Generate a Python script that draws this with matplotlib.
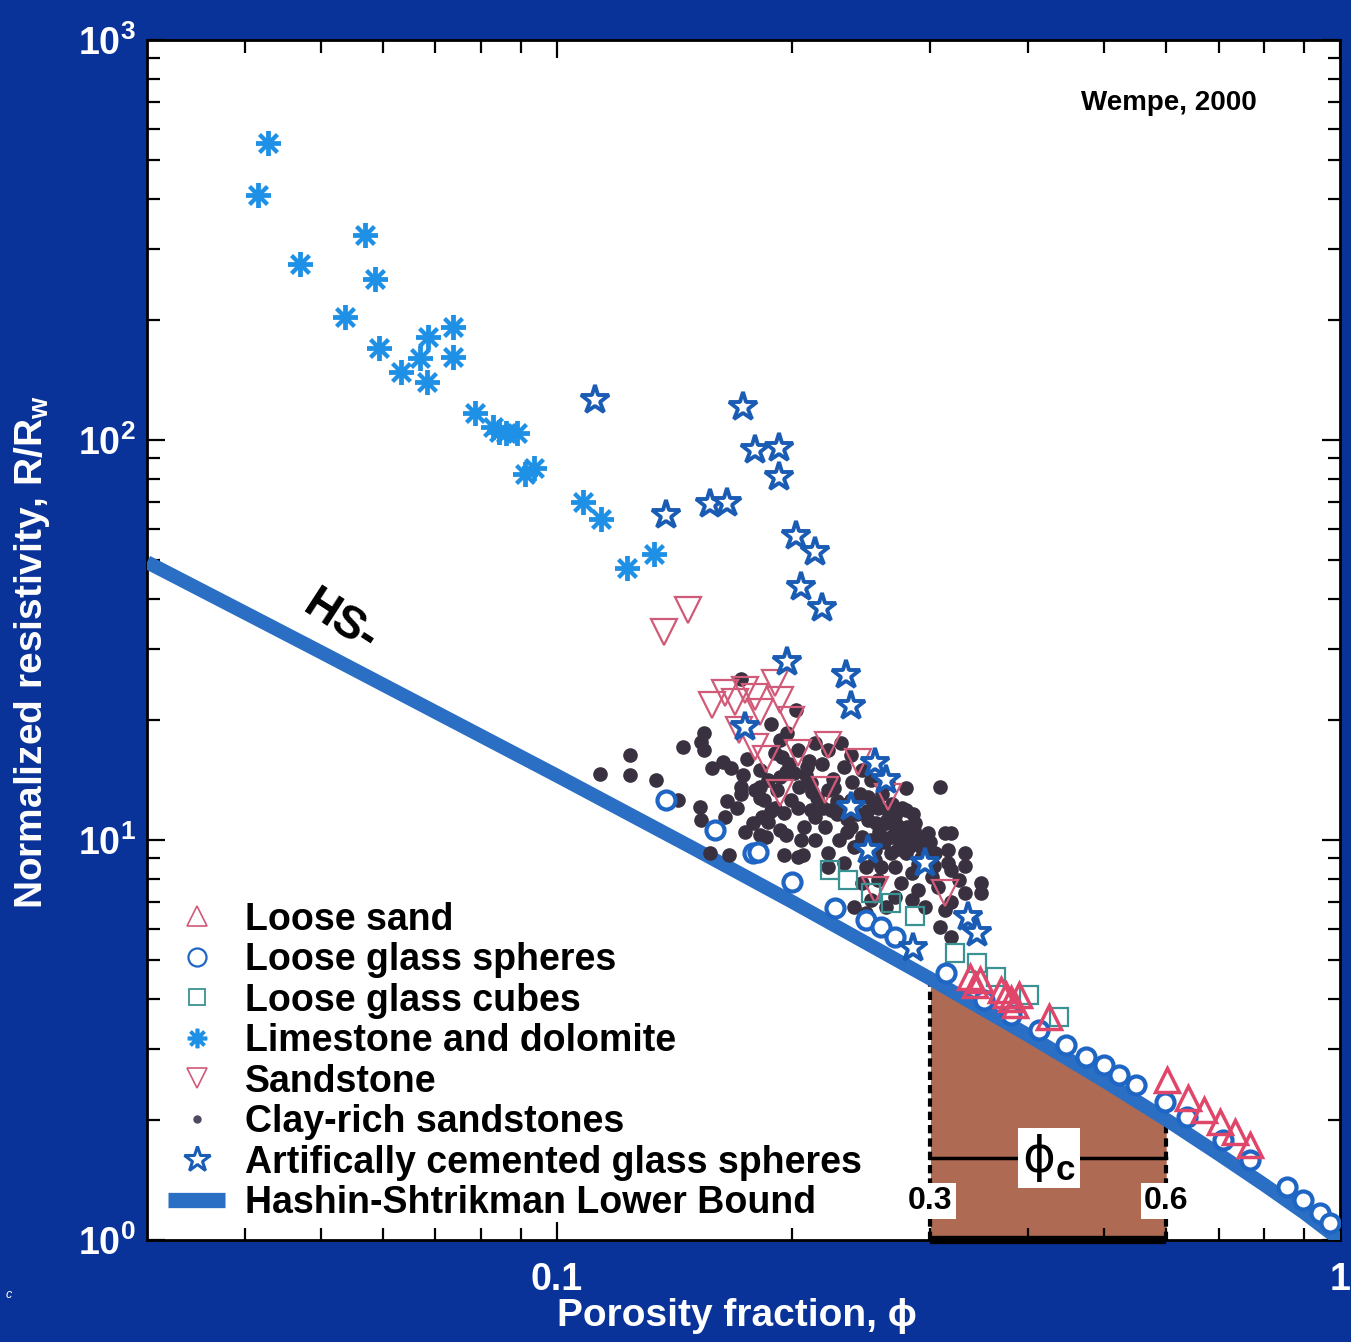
"""
Normalized resistivity vs porosity with the Hashin-Shtrikman lower bound
and the critical-porosity window.
"""

import matplotlib
matplotlib.use("Agg")
import matplotlib.pyplot as plt
from matplotlib.lines import Line2D
from matplotlib.ticker import FixedLocator, FixedFormatter, NullFormatter

BG = "#0a3399"
HS_COL = "#2a6fc4"
SHADE = "#ae6a52"
LIME_COL = "#1e90e6"
STAR_COL = "#1a5cb4"
SAND_COL = "#e0466a"
SST_COL = "#d05a78"
SPH_COL = "#1f66c4"
CUBE_COL = "#3a9292"
CLAY_COL = "#3a3140"

plt.rcParams["font.family"] = ["Liberation Sans", "DejaVu Sans"]
plt.rcParams["mathtext.fontset"] = "custom"
plt.rcParams["mathtext.rm"] = "Liberation Sans:bold"
plt.rcParams["mathtext.bf"] = "Liberation Sans:bold"
plt.rcParams["mathtext.it"] = "Liberation Sans:bold"
plt.rcParams["mathtext.fallback"] = "stixsans"

# ── Hashin-Shtrikman lower bound ──────────────────────────────────────────
hs_phi = [0.03, 0.04, 0.05, 0.07, 0.1, 0.15, 0.2, 0.3, 0.4, 0.5, 0.6, 0.7, 0.8, 0.9, 1.0]
hs_R = [49.5, 37.0, 29.5, 20.9, 14.5, 9.5, 7.0, 4.5, 3.25, 2.5, 2.0, 1.64, 1.375, 1.17, 1.0]

phi_c_lo, phi_c_hi = 0.3, 0.6

# ── Limestone and dolomite ────────────────────────────────────────────────
lime_phi = [0.0428, 0.0416, 0.0569, 0.0470, 0.0586, 0.0537, 0.0738, 0.0685,
            0.0593, 0.0669, 0.0738, 0.0633, 0.0683, 0.0787, 0.0830, 0.0843,
            0.0863, 0.0889, 0.0910, 0.0937, 0.108, 0.114, 0.123, 0.133]
lime_R = [553, 410, 326, 275, 253, 203, 192, 181,
          170, 160, 161, 148, 140, 117, 108, 105,
          104, 104, 82, 85, 70, 63.5, 48, 52]

# ── Artificially cemented glass spheres ───────────────────────────────────
star_phi = [0.112, 0.173, 0.179, 0.192, 0.192, 0.157, 0.165, 0.138,
            0.202, 0.214, 0.205, 0.218, 0.197, 0.234, 0.2375, 0.174,
            0.255, 0.263, 0.2375, 0.250, 0.295, 0.3355, 0.344, 0.285]
star_R = [126, 121, 94.4, 95.5, 80.8, 69.2, 69.6, 64.9,
          57.5, 52.5, 42.9, 38.0, 27.9, 25.8, 21.6, 19.2,
          15.6, 14.1, 12.1, 9.44, 8.76, 6.42, 5.86, 5.37]

# ── Sandstone ─────────────────────────────────────────────────────────────
sst_phi = [0.137, 0.147, 0.158, 0.164, 0.169, 0.174, 0.179, 0.182,
           0.190, 0.193, 0.171, 0.179, 0.185, 0.199, 0.203, 0.222,
           0.2425, 0.265, 0.193, 0.220, 0.255, 0.313]
sst_R = [33.1, 37.6, 21.8, 23.3, 22.1, 23.7, 22.8, 20.9,
         24.7, 22.4, 18.8, 17.1, 15.9, 20.0, 16.5, 17.3,
         15.7, 12.8, 13.1, 13.3, 7.5, 7.37]

# ── Loose sand ────────────────────────────────────────────────────────────
sand_phi = [0.337, 0.3425, 0.3475, 0.369, 0.375, 0.380, 0.385, 0.389, 0.425,
            0.602, 0.639, 0.671, 0.702, 0.734, 0.767]
sand_R = [4.54, 4.34, 4.47, 4.22, 4.10, 4.0, 3.87, 4.10, 3.61,
          2.51, 2.26, 2.11, 1.97, 1.86, 1.73]

# ── Loose glass spheres ───────────────────────────────────────────────────
sph_phi = [0.138, 0.1595, 0.178, 0.1805, 0.200, 0.2265, 0.248, 0.2595, 0.2705,
           0.314, 0.351, 0.380, 0.4125, 0.447, 0.474, 0.500, 0.522, 0.549,
           0.597, 0.637, 0.708, 0.767, 0.855, 0.897, 0.943, 0.971]
sph_R = [12.6, 10.6, 9.28, 9.33, 7.85, 6.76, 6.31, 6.06, 5.72,
         4.65, 3.98, 3.65, 3.35, 3.07, 2.87, 2.74, 2.59, 2.44,
         2.21, 2.03, 1.78, 1.585, 1.357, 1.259, 1.168, 1.103]

# ── Loose glass cubes ─────────────────────────────────────────────────────
cube_phi = [0.2233, 0.2354, 0.252, 0.2673, 0.2869, 0.3228, 0.3436, 0.3643, 0.4005, 0.4375]
cube_R = [8.41, 7.94, 7.37, 6.96, 6.46, 5.22, 4.93, 4.54, 4.10, 3.61]

# ── Clay-rich sandstones ──────────────────────────────────────────────────
clay_phi = [
    0.172, 0.154, 0.153, 0.154, 0.145, 0.124, 0.1135, 0.124, 0.134, 0.158,
    0.163, 0.167, 0.173, 0.175, 0.172, 0.172, 0.182, 0.182, 0.186, 0.193,
    0.193, 0.191, 0.182, 0.183, 0.186, 0.193, 0.1525, 0.153, 0.164, 0.174,
    0.182, 0.195, 0.166, 0.143, 0.157,
    0.185, 0.205, 0.206, 0.188, 0.222, 0.179, 0.184, 0.195, 0.203, 0.2135,
    0.220, 0.309, 0.319, 0.316, 0.319, 0.309,
    0.202, 0.194, 0.203, 0.2135, 0.222, 0.231, 0.2375, 0.233, 0.245, 0.252,
    0.265, 0.279, 0.201, 0.211, 0.222, 0.199, 0.211, 0.224, 0.2375, 0.255,
    0.265, 0.279, 0.287, 0.298, 0.313, 0.250, 0.263, 0.2705, 0.284, 0.2375,
    0.229, 0.240, 0.255, 0.267, 0.279, 0.292, 0.304, 0.316, 0.3325, 0.222,
    0.2135, 0.207, 0.203, 0.233, 0.248, 0.2595, 0.2705, 0.284, 0.301, 0.319,
    0.326, 0.307, 0.2895, 0.275, 0.257, 0.245, 0.295, 0.313, 0.3325, 0.3485,
    0.284, 0.252, 0.2705, 0.263, 0.240, 0.248,
    0.258, 0.270, 0.280, 0.262, 0.275, 0.290, 0.285, 0.245, 0.250, 0.260,
    0.268, 0.295, 0.300, 0.255, 0.242, 0.235, 0.228, 0.215, 0.208, 0.218,
    0.225, 0.238, 0.244, 0.210, 0.198, 0.190, 0.197, 0.188, 0.165, 0.170,
    0.178, 0.190, 0.196, 0.272, 0.282, 0.264, 0.276, 0.286, 0.292, 0.252,
    0.3325, 0.3485, 0.319,
    0.261, 0.267, 0.273, 0.279, 0.256, 0.249, 0.243, 0.235, 0.228, 0.219,
    0.212, 0.204, 0.196, 0.209, 0.226, 0.233, 0.257, 0.289, 0.297, 0.303,
]
clay_R = [
    25.3, 18.5, 17.6, 16.8, 17.1, 16.3, 14.6, 14.5, 14.1, 15.1,
    15.7, 15.1, 14.5, 15.9, 13.6, 13.0, 15.0, 13.6, 14.1, 17.8,
    14.4, 13.3, 12.7, 11.4, 11.1, 10.6, 12.1, 11.2, 11.4, 10.5,
    10.3, 9.17, 9.17, 12.6, 9.28,
    10.2, 10.0, 9.17, 11.8, 8.56, 13.3, 12.6, 11.7, 12.0, 11.4,
    10.8, 13.6, 10.4, 8.76, 5.72, 6.06,
    21.1, 16.1, 16.8, 17.5, 16.8, 17.5, 16.3, 15.2, 15.0, 14.1,
    13.9, 13.5, 14.7, 13.9, 13.3, 12.6, 11.9, 11.9, 12.6, 12.4,
    11.9, 11.9, 11.0, 10.4, 10.4, 11.2, 11.0, 10.4, 10.0, 10.8,
    10.0, 9.61, 9.44, 9.28, 9.28, 9.61, 9.28, 9.44, 9.28, 9.28,
    10.0, 10.8, 9.07, 8.76, 8.56, 8.56, 8.56, 8.27, 8.08, 8.41,
    7.94, 7.63, 7.50, 7.81, 7.94, 7.81, 6.80, 6.68, 7.37, 7.37,
    7.08, 7.08, 7.20, 6.80, 6.80, 6.57,
    10.5, 11.5, 10.8, 9.9, 9.8, 10.2, 11.6, 10.2, 12.8, 13.0,
    12.3, 8.9, 9.9, 8.9, 11.6, 11.3, 12.5, 12.7, 14.5, 15.5,
    14.2, 14.0, 13.0, 15.8, 15.5, 16.5, 18.5, 19.5, 12.5, 12.0,
    11.0, 12.0, 10.3, 10.9, 9.6, 11.2, 12.0, 10.6, 9.0, 10.0,
    8.6, 7.8, 7.0,
    10.0, 10.2, 9.5, 10.4, 11.0, 11.8, 9.7, 10.5, 11.6, 12.0,
    13.2, 13.6, 14.8, 15.2, 13.5, 12.2, 12.0, 8.7, 9.4, 8.6,
]

legend_labels = ["Loose sand", "Loose glass spheres", "Loose glass cubes",
                 "Limestone and dolomite", "Sandstone", "Clay-rich sandstones",
                 "Artifically cemented glass spheres", "Hashin-Shtrikman Lower Bound"]


def main():
    fig = plt.figure(figsize=(13.51, 13.42), dpi=100, facecolor=BG)
    ax = fig.add_axes([0.1088, 0.0760, 0.8831, 0.8942])
    ax.set_facecolor("white")
    ax.set_xscale("log")
    ax.set_yscale("log")
    ax.set_xlim(0.03, 1.0)
    ax.set_ylim(1, 1000)

    # critical porosity window under the bound
    i0, i1 = hs_phi.index(phi_c_lo), hs_phi.index(phi_c_hi)
    ax.fill_between(hs_phi[i0:i1 + 1], 1, hs_R[i0:i1 + 1], color=SHADE, lw=0, zorder=1)
    for i in (i0, i1):
        ax.plot([hs_phi[i], hs_phi[i]], [1, hs_R[i]], color="black", lw=3,
                ls=(0, (2, 1.2)), zorder=2)
    ax.plot([phi_c_lo, phi_c_hi], [1, 1], color="black", lw=6, zorder=8,
            solid_capstyle="butt", clip_on=False)
    ax.plot([phi_c_lo, phi_c_hi], [1.6, 1.6], color="black", lw=2.5, zorder=3)
    ax.text(0.425, 1.6, "ϕ$_\\mathbf{c}$", fontsize=36, ha="center", va="center",
            family=["DejaVu Sans"], zorder=4,
            bbox=dict(fc="white", ec="none", pad=3))
    for v in (phi_c_lo, phi_c_hi):
        ax.text(v, 1.25, f"{v:g}", fontsize=23, weight="bold", ha="center",
                va="center", zorder=4, bbox=dict(fc="white", ec="none", pad=2))

    # bound
    ax.plot(hs_phi, hs_R, color=HS_COL, lw=10, solid_capstyle="butt", zorder=3)

    # data
    ax.plot(clay_phi, clay_R, ls="none", marker="o", ms=9.5, mfc=CLAY_COL,
            mec=CLAY_COL, zorder=4)
    ax.plot(sst_phi, sst_R, ls="none", marker="v", ms=19, mfc="none",
            mec=SST_COL, mew=1.6, zorder=5)
    ax.plot(cube_phi, cube_R, ls="none", marker="s", ms=13, mfc="none",
            mec=CUBE_COL, mew=1.6, zorder=5)
    ax.plot(sph_phi, sph_R, ls="none", marker="o", ms=13, mfc="white",
            mec=SPH_COL, mew=3, zorder=6)
    ax.plot(sand_phi, sand_R, ls="none", marker="^", ms=17, mfc="none",
            mec=SAND_COL, mew=2.5, zorder=7)
    ax.plot(star_phi, star_R, ls="none", marker="*", ms=21, mfc="white",
            mec=STAR_COL, mew=2.8, zorder=7)
    ax.plot(lime_phi, lime_R, ls="none", marker=(8, 2, 0), ms=18, mec=LIME_COL,
            mew=2.8, zorder=7)

    ax.text(0.053, 35, "HS-", fontsize=33, weight="bold", rotation=-33,
            ha="center", va="center", zorder=8)
    ax.text(0.605, 696, "Wempe, 2000", fontsize=20, weight="bold",
            ha="center", va="center")

    # axes styling
    for s in ax.spines.values():
        s.set_linewidth(2)
        s.set_color("black")
    ax.xaxis.set_major_locator(FixedLocator([0.1, 1.0]))
    ax.xaxis.set_major_formatter(FixedFormatter(["0.1", "1"]))
    ax.xaxis.set_minor_locator(FixedLocator(
        [0.04, 0.05, 0.06, 0.07, 0.08, 0.09, 0.2, 0.3, 0.4, 0.5, 0.6, 0.7, 0.8, 0.9]))
    ax.xaxis.set_minor_formatter(NullFormatter())
    ax.yaxis.set_major_locator(FixedLocator([1, 10, 100, 1000]))
    ax.yaxis.set_major_formatter(FixedFormatter(
        ["$10^{0}$", "$10^{1}$", "$10^{2}$", "$10^{3}$"]))
    ax.yaxis.set_minor_formatter(NullFormatter())
    ax.tick_params(which="both", direction="in", top=True, right=True,
                   colors="black", width=1.6, labelcolor="white")
    ax.tick_params(which="major", length=13, labelsize=27)
    ax.tick_params(which="minor", length=9)
    ax.tick_params(axis="x", which="major", pad=16)
    ax.tick_params(axis="y", which="major", pad=8)
    for lab in ax.get_xticklabels():
        lab.set_fontweight("bold")

    ax.set_xlabel("Porosity fraction, ϕ", fontsize=28, weight="bold", color="white")
    ax.xaxis.set_label_coords(0.4945, -0.048)
    ax.set_ylabel("Normalized resistivity, R/R$_\\mathbf{w}$", fontsize=28,
                  weight="bold", color="white")
    ax.yaxis.set_label_coords(-0.08, 0.49)

    handles = [
        Line2D([], [], ls="none", marker="^", ms=15, mfc="none", mec=SST_COL, mew=1.2),
        Line2D([], [], ls="none", marker="o", ms=13, mfc="none", mec=SPH_COL, mew=1.6),
        Line2D([], [], ls="none", marker="s", ms=12, mfc="none", mec=CUBE_COL, mew=1.3),
        Line2D([], [], ls="none", marker=(8, 2, 0), ms=14, mec=LIME_COL, mew=2.6),
        Line2D([], [], ls="none", marker="v", ms=15, mfc="none", mec=SST_COL, mew=1.2),
        Line2D([], [], ls="none", marker="o", ms=5, mfc="#504860", mec="#504860"),
        Line2D([], [], ls="none", marker="*", ms=19, mfc="white", mec=STAR_COL, mew=2.2),
        Line2D([], [], color=HS_COL, lw=11, solid_capstyle="butt"),
    ]
    ax.legend(handles, legend_labels, loc="upper left", bbox_to_anchor=(0.018, 0.282),
              frameon=False, prop=dict(size=27, weight="bold"), handlelength=1.5,
              handletextpad=0.55, labelspacing=0.12, borderpad=0, borderaxespad=0)

    fig.text(0.004, 0.033, "c", fontsize=9, style="italic", color="white")

    fig.savefig("out.png", dpi=100, facecolor=BG)
    plt.close(fig)


if __name__ == "__main__":
    main()
